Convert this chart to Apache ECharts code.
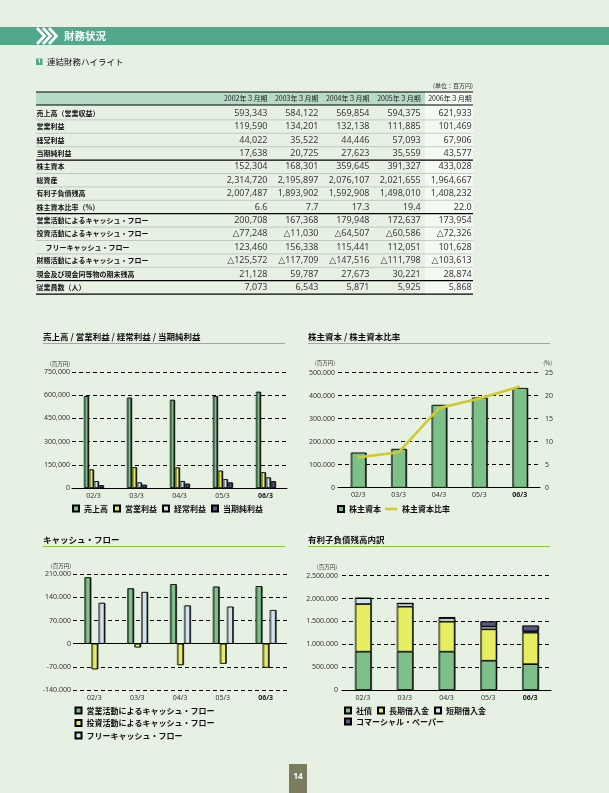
<!DOCTYPE html>
<html><head><meta charset="utf-8">
<script src="https://cdn.jsdelivr.net/npm/echarts@6/dist/echarts.min.js"></script>
<style>html,body{margin:0;padding:0;background:#E6F1E4;}#c{width:609px;height:793px;}</style>
</head><body><div id="c"></div>
<script>
// ---------- data ----------
const categories = ['02/3','03/3','04/3','05/3','06/3'];
const tableYears = ['2002年３月期','2003年３月期','2004年３月期','2005年３月期','2006年３月期'];
const sales = [593343,584122,569854,594375,621933];
const operatingIncome = [119590,134201,132138,111885,101469];
const ordinaryIncome = [44022,35522,44446,57093,67906];
const netIncome = [17638,20725,27623,35559,43577];
const equity = [152304,168301,359645,391327,433028];
const totalAssets = [2314720,2195897,2076107,2021655,1964667];
const interestDebt = [2007487,1893902,1592908,1498010,1408232];
const equityRatio = [6.6,7.7,17.3,19.4,22.0];
const operatingCF = [200708,167368,179948,172637,173954];
const investingCF = [-77248,-11030,-64507,-60586,-72326];
const freeCF = [123460,156338,115441,112051,101628];
const financingCF = [-125572,-117709,-147516,-111798,-103613];
const cashEnd = [21128,59787,27673,30221,28874];
const employees = [7073,6543,5871,5925,5868];
const bonds = [838000,838000,838000,641000,565000];
const longTermLoans = [1042000,984000,656000,686000,689000];
const shortTermLoans = [127487,71902,75000,60000,30000];
const commercialPaper = [0,0,23908,111010,124232];

const tableRows = [
  ['売上高（営業収益）', sales, 'int', 0],
  ['営業利益', operatingIncome, 'int', 0],
  ['経常利益', ordinaryIncome, 'int', 0],
  ['当期純利益', netIncome, 'int', 0],
  ['株主資本', equity, 'int', 0],
  ['総資産', totalAssets, 'int', 0],
  ['有利子負債残高', interestDebt, 'int', 0],
  ['株主資本比率（%）', equityRatio, 'pct', 0],
  ['営業活動によるキャッシュ・フロー', operatingCF, 'int', 0],
  ['投資活動によるキャッシュ・フロー', investingCF, 'int', 0],
  ['フリーキャッシュ・フロー', freeCF, 'int', 1],
  ['財務活動によるキャッシュ・フロー', financingCF, 'int', 0],
  ['現金及び現金同等物の期末残高', cashEnd, 'int', 0],
  ['従業員数（人）', employees, 'int', 0]
];

// ---------- helpers ----------
const JP = '"Noto Sans CJK JP", "Noto Sans", sans-serif';
const NUM = '"Noto Sans", "DejaVu Sans", "Noto Sans CJK JP", sans-serif';
function fmtInt(v){ const s = Math.abs(v).toLocaleString('en-US'); return v < 0 ? '△' + s : s; }
function fmtCell(v, kind){ return kind === 'pct' ? v.toFixed(1) : fmtInt(v); }
function dotFmt(v){ return Math.round(v).toLocaleString('en-US').replace(/,/g, '.'); }
function commaFmt(v){ return Math.round(v).toLocaleString('en-US'); }
function catFmt(v){ return v === '06/3' ? '{b|' + v + '}' : v; }

const els = [];
// title bar
els.push({type:'rect', shape:{x:0,y:27,width:609,height:18}, style:{fill:'#52A88A'}});
[37,43,49].forEach(x => els.push({type:'polyline', shape:{points:[[x,28],[x+7.5,36],[x,44]]}, style:{stroke:'#fff', lineWidth:2.6, fill:null}}));
els.push({type:'text', x:64, y:36.5, style:{text:'財務状況', fill:'#fff', fontSize:10.5, fontWeight:'bold', fontFamily:JP, verticalAlign:'middle'}});
// section heading
els.push({type:'rect', shape:{x:36,y:58.5,width:6.5,height:6.5}, style:{fill:'#52A88A'}});
els.push({type:'text', x:39.3, y:61.9, style:{text:'1', fill:'#fff', fontSize:5.5, fontWeight:'bold', fontFamily:NUM, align:'center', verticalAlign:'middle'}});
els.push({type:'text', x:47, y:61.8, style:{text:'連結財務ハイライト', fill:'#111', fontSize:8.5, fontFamily:JP, verticalAlign:'middle'}});

// table
const tL = 36, tR = 473, tTop = 92, hdrBot = 105, rowTop = 106.5, rowH = 13.4;
const colRight = [267.5, 318.5, 369.5, 420.7, 471.7];
const tBot = rowTop + tableRows.length * rowH;
els.push({type:'text', x:473, y:85.5, style:{text:'(単位：百万円)', fill:'#333', fontSize:6, fontFamily:JP, align:'right', verticalAlign:'middle'}});
els.push({type:'rect', shape:{x:tL,y:tTop,width:389,height:hdrBot-tTop}, style:{fill:'#B7DAC5'}});
els.push({type:'rect', shape:{x:425,y:tTop,width:48,height:tBot-tTop}, style:{fill:'#F5F9F3'}});
tableYears.forEach((y,i) => els.push({type:'text', x:colRight[i], y:98.6, style:{text:y, fill:'#222', fontSize:7, fontFamily:JP, align:'right', verticalAlign:'middle'}}));
const thick = [0, 4, 8, 13, 14];
for (let i = 1; i <= tableRows.length; i++) {
  const y = rowTop + i * rowH;
  const isThick = thick.includes(i);
  if (!isThick) els.push({type:'line', shape:{x1:tL,y1:y,x2:tR,y2:y}, style:{stroke:'#9FAE9F', lineWidth:0.6}});
}
[tTop, hdrBot].concat(thick.filter(t=>t>0).map(t => rowTop + t*rowH)).forEach(y =>
  els.push({type:'line', shape:{x1:tL,y1:y,x2:tR,y2:y}, style:{stroke:'#000', lineWidth:1.2}}));
tableRows.forEach((r, ri) => {
  const cy = rowTop + rowH * ri + rowH / 2;
  els.push({type:'text', x:tL + 0.5 + (r[3] ? 9 : 0), y:cy, style:{text:r[0], fill:'#111', fontSize:7, fontWeight:'bold', fontFamily:JP, verticalAlign:'middle'}});
  r[1].forEach((v, ci) => els.push({type:'text', x:colRight[ci], y:cy, style:{text:fmtCell(v, r[2]), fill:'#3a3a3a', fontSize:9, fontFamily:NUM, align:'right', verticalAlign:'middle'}}));
});

// chart titles
function chartTitle(x, y, x2, text){
  els.push({type:'text', x:x, y:y, style:{text:text, fill:'#111', fontSize:8.5, fontWeight:'bold', fontFamily:JP, verticalAlign:'middle'}});
  els.push({type:'line', shape:{x1:x,y1:y+7,x2:x2,y2:y+7}, style:{stroke:'#8CC63F', lineWidth:1}});
}
chartTitle(43, 336.5, 285, '売上高 / 営業利益 / 経常利益 / 当期純利益');
chartTitle(308, 336.5, 550, '株主資本 / 株主資本比率');
chartTitle(43, 539.5, 285, 'キャッシュ・フロー');
chartTitle(308, 539.5, 550, '有利子負債残高内訳');
function unitText(x, y, t, align){ els.push({type:'text', x:x, y:y, style:{text:t, fill:'#333', fontSize:5.5, fontFamily:JP, align:align||'right', verticalAlign:'middle'}}); }
unitText(70, 363.5, '(百万円)');
unitText(335, 363, '(百万円)');
unitText(552, 363, '(%)');
unitText(71, 565.5, '(百万円)');
unitText(337, 567, '(百万円)');
// page number
els.push({type:'rect', shape:{x:289,y:764,width:18,height:29}, style:{fill:'#7B7B5D'}});
els.push({type:'text', x:298, y:776.5, style:{text:'14', fill:'#fff', fontSize:8.5, fontWeight:'bold', fontFamily:NUM, align:'center', verticalAlign:'middle'}});

// ---------- chart config ----------
const C_GREEN = '#7EC08A', C_YELLOW = '#E6EF62', C_BLUE = '#D0E4EB', C_PURPLE = '#5B5582', C_LINE = '#CFCB2E';
const barStyle = c => ({color:c, borderColor:'#000', borderWidth:0.6, shadowColor:'rgba(0,0,0,0.9)', shadowOffsetX:1, shadowOffsetY:0, shadowBlur:0});
const split = {show:true, lineStyle:{color:'#000', type:[4,3], width:1}};
function xAx(g, showLine){
  return {type:'category', gridIndex:g, data:categories,
    axisLine:{show:showLine, onZero:false, lineStyle:{color:'#000', width:1}}, axisTick:{show:false},
    axisLabel:{fontSize:7, color:'#333', fontFamily:NUM, margin:4, formatter:catFmt, rich:{b:{fontSize:7, fontWeight:'bold', color:'#222', fontFamily:NUM}}}};
}
function yAx(g, min, max, interval, fmt, margin){
  return {type:'value', gridIndex:g, min:min, max:max, interval:interval,
    axisLine:{show:false}, axisTick:{show:false}, splitLine:split,
    axisLabel:{fontSize:7, color:'#333', fontFamily:NUM, margin:margin, formatter:fmt}};
}
const legendText = {fontSize:8, color:'#111', fontFamily:JP, fontWeight:'bold'};
function leg(left, top, data, extra){
  return Object.assign({left:left, top:top, data:data, itemWidth:6, itemHeight:6, itemGap:5, icon:'rect', selectedMode:false, padding:0, textStyle:legendText}, extra||{});
}

const option = {
  animation:false,
  backgroundColor:'#E6F1E4',
  graphic:{elements:els},
  grid:[
    {left:72, top:372, width:215, height:116},
    {left:338, top:372.7, width:202, height:115},
    {left:73, top:574.3, width:214, height:115.7},
    {left:342, top:575.7, width:209, height:114.3}
  ],
  xAxis:[xAx(0,true), xAx(1,true), xAx(2,false), xAx(3,true)],
  yAxis:[
    yAx(0, 0, 750000, 150000, commaFmt, 2),
    yAx(1, 0, 500000, 100000, dotFmt, 3),
    Object.assign(yAx(1, 0, 25, 5, v => String(v), 5), {position:'right', splitLine:{show:false}}),
    yAx(2, -140000, 210000, 70000, dotFmt, 2),
    yAx(3, 0, 2500000, 500000, dotFmt, 4)
  ],
  legend:[
    leg(72, 504.5, ['売上高','営業利益','経常利益','当期純利益']),
    leg(337, 505, ['株主資本']),
    leg(385, 505, [{name:'株主資本比率', icon:'path://M0,0 L12,0 L12,2.5 L0,2.5 Z'}], {itemWidth:12, itemHeight:3}),
    leg(74.5, 706.5, ['営業活動によるキャッシュ・フロー','投資活動によるキャッシュ・フロー','フリーキャッシュ・フロー'], {orient:'vertical', itemGap:4.5}),
    leg(344, 706.5, ['社債','長期借入金','短期借入金']),
    leg(344, 717.5, ['コマーシャル・ペーパー'])
  ],
  series:[
    {name:'売上高', type:'bar', xAxisIndex:0, yAxisIndex:0, data:sales, barWidth:4.3, barGap:'16%', itemStyle:barStyle(C_GREEN)},
    {name:'営業利益', type:'bar', xAxisIndex:0, yAxisIndex:0, data:operatingIncome, barWidth:4.3, barGap:'16%', itemStyle:barStyle(C_YELLOW)},
    {name:'経常利益', type:'bar', xAxisIndex:0, yAxisIndex:0, data:ordinaryIncome, barWidth:4.3, barGap:'16%', itemStyle:barStyle(C_BLUE)},
    {name:'当期純利益', type:'bar', xAxisIndex:0, yAxisIndex:0, data:netIncome, barWidth:4.3, barGap:'16%', itemStyle:barStyle(C_PURPLE)},

    {name:'株主資本', type:'bar', xAxisIndex:1, yAxisIndex:1, data:equity, barWidth:15, itemStyle:barStyle(C_GREEN)},
    {name:'株主資本比率', type:'line', xAxisIndex:1, yAxisIndex:2, data:equityRatio, symbol:'none', z:5,
      lineStyle:{color:C_LINE, width:2.6}, itemStyle:{color:C_LINE}},

    {name:'営業活動によるキャッシュ・フロー', type:'bar', xAxisIndex:2, yAxisIndex:3, data:operatingCF, barWidth:6, barGap:'17%', itemStyle:barStyle(C_GREEN),
      markLine:{silent:true, symbol:['none','none'], label:{show:false}, lineStyle:{color:'#000', type:'solid', width:1}, data:[{yAxis:0}]}},
    {name:'投資活動によるキャッシュ・フロー', type:'bar', xAxisIndex:2, yAxisIndex:3, data:investingCF, barWidth:6, barGap:'17%', itemStyle:barStyle(C_YELLOW)},
    {name:'フリーキャッシュ・フロー', type:'bar', xAxisIndex:2, yAxisIndex:3, data:freeCF, barWidth:6, barGap:'17%', itemStyle:barStyle(C_BLUE)},

    {name:'社債', type:'bar', stack:'debt', xAxisIndex:3, yAxisIndex:4, data:bonds, barWidth:16, itemStyle:barStyle(C_GREEN)},
    {name:'長期借入金', type:'bar', stack:'debt', xAxisIndex:3, yAxisIndex:4, data:longTermLoans, barWidth:16, itemStyle:barStyle(C_YELLOW)},
    {name:'短期借入金', type:'bar', stack:'debt', xAxisIndex:3, yAxisIndex:4, data:shortTermLoans, barWidth:16, itemStyle:barStyle(C_BLUE)},
    {name:'コマーシャル・ペーパー', type:'bar', stack:'debt', xAxisIndex:3, yAxisIndex:4, data:commercialPaper, barWidth:16, itemStyle:barStyle(C_PURPLE)}
  ]
};
const chart = echarts.init(document.getElementById('c'), null, {renderer:'canvas'});
chart.setOption(option);
</script></body></html>
